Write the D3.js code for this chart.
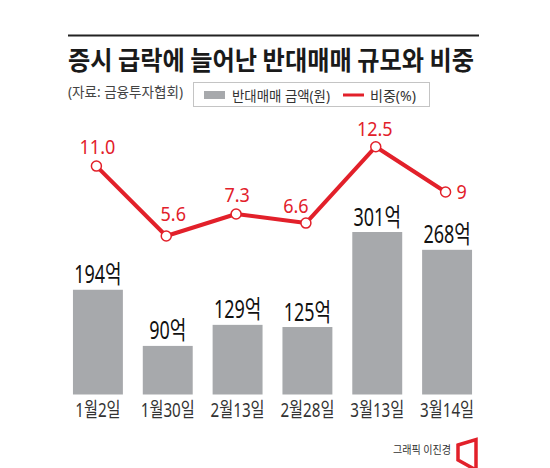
<!DOCTYPE html>
<html>
<head>
<meta charset="utf-8">
<script src="https://cdn.jsdelivr.net/npm/d3@7"></script>
<style>
  html, body { margin: 0; padding: 0; background: #fff; }
  svg text { font-family: "Noto Sans", "Noto Sans CJK KR", sans-serif; }
  svg text.kr { font-family: "Noto Sans CJK KR", "Noto Sans", sans-serif; }
</style>
</head>
<body>
<div id="chart"></div>
<script>
// ===== data =====
const dates   = ['1월2일', '1월30일', '2월13일', '2월28일', '3월13일', '3월14일'];
const amounts = [194, 90, 129, 125, 301, 268];          // 반대매매 금액 (억원)
const shares  = [11.0, 5.6, 7.3, 6.6, 12.5, 9];           // 비중 (%)
const shareLabels = ['11.0', '5.6', '7.3', '6.6', '12.5', '9'];

const RED  = '#e2202a';
const GRAY = '#a7a9ac';

const width = 550, height = 468;

const svg = d3.select('#chart')
  .append('svg')
  .attr('width', width)
  .attr('height', height);

// ---- Title block ----
svg.append('line')
  .attr('x1', 68).attr('x2', 479)
  .attr('y1', 35.5).attr('y2', 35.5)
  .attr('stroke', '#222').attr('stroke-width', 2);

svg.append('text')
  .attr('class', 'kr')
  .attr('x', 68).attr('y', 69.5)
  .attr('font-size', 26).attr('font-weight', 700)
  .attr('fill', '#1a1a1a')
  .attr('textLength', 406).attr('lengthAdjust', 'spacingAndGlyphs')
  .text('증시 급락에 늘어난 반대매매 규모와 비중');

svg.append('text')
  .attr('x', 68).attr('y', 96.5)
  .attr('font-size', 14).attr('fill', '#444')
  .attr('textLength', 115).attr('lengthAdjust', 'spacingAndGlyphs')
  .text('(자료: 금융투자협회)');

// ---- Legend ----
const legend = svg.append('g');
legend.append('rect')
  .attr('x', 193.5).attr('y', 82.5).attr('width', 236).attr('height', 24)
  .attr('fill', '#fff').attr('stroke', '#c4c4c4').attr('stroke-width', 1);
legend.append('rect')
  .attr('x', 204).attr('y', 91).attr('width', 21).attr('height', 8)
  .attr('fill', GRAY);
legend.append('text')
  .attr('x', 232).attr('y', 100.5)
  .attr('font-size', 14).attr('fill', '#333')
  .attr('textLength', 98).attr('lengthAdjust', 'spacingAndGlyphs')
  .text('반대매매 금액(원)');
legend.append('line')
  .attr('x1', 343).attr('x2', 364).attr('y1', 95).attr('y2', 95)
  .attr('stroke', RED).attr('stroke-width', 3);
legend.append('text')
  .attr('x', 370).attr('y', 100.5)
  .attr('font-size', 14).attr('fill', '#333')
  .attr('textLength', 46).attr('lengthAdjust', 'spacingAndGlyphs')
  .text('비중(%)');

// ---- Scales ----
const x = d3.scaleBand()
  .domain(dates)
  .range([63, 482])
  .paddingInner(0.285)
  .paddingOuter(0.1425);

const yBar = d3.scaleLinear()
  .domain([0, d3.max(amounts)])
  .range([394.5, 232]);

const yLine = d3.scaleLinear()
  .domain([0, d3.max(shares)])
  .range([308.5, 146.7]);

const cx = d => x(d) + x.bandwidth() / 2 - 1.5;

// ---- Bars ----
svg.selectAll('.bar')
  .data(amounts)
  .enter()
  .append('rect')
  .attr('class', 'bar')
  .attr('x', (d, i) => x(dates[i]))
  .attr('y', d => yBar(d))
  .attr('width', x.bandwidth())
  .attr('height', d => yBar(0) - yBar(d))
  .attr('fill', GRAY);

svg.selectAll('.bar-label')
  .data(amounts)
  .enter()
  .append('g')
  .attr('class', 'bar-label')
  .attr('transform', (d, i) => `translate(${x(dates[i]) + x.bandwidth() / 2},${yBar(d) - 6.5}) scale(0.72,1)`)
  .append('text')
  .attr('text-anchor', 'middle')
  .attr('font-size', 25)
  .attr('fill', '#111')
  .text(d => d + '억');

// ---- X axis ----
const xAxis = svg.append('g')
  .attr('transform', `translate(0,${yBar(0)})`)
  .call(d3.axisBottom(x).tickSize(0));
xAxis.select('.domain').remove();
xAxis.selectAll('text')
  .attr('y', 22.5).attr('dy', 0)
  .attr('font-size', 20)
  .attr('fill', '#333')
  .attr('font-family', '"Noto Sans", "Noto Sans CJK KR", sans-serif')
  .attr('transform', 'scale(0.76,1)');

// ---- Line ----
const line = d3.line()
  .x((d, i) => cx(dates[i]))
  .y(d => yLine(d));

svg.append('path')
  .datum(shares)
  .attr('d', line)
  .attr('fill', 'none')
  .attr('stroke', RED)
  .attr('stroke-width', 4)
  .attr('stroke-linejoin', 'round');

svg.selectAll('.dot')
  .data(shares)
  .enter()
  .append('circle')
  .attr('class', 'dot')
  .attr('cx', (d, i) => cx(dates[i]))
  .attr('cy', d => yLine(d))
  .attr('r', 5)
  .attr('fill', '#fff')
  .attr('stroke', RED)
  .attr('stroke-width', 1.5);

// label nudges (dx, dy from the point, anchor)
const nudge = [
  [1, -12, 'middle'],
  [7, -15, 'middle'],
  [1, -12, 'middle'],
  [-10, -10, 'middle'],
  [-1, -10.5, 'middle'],
  [11, 6.5, 'start']
];

svg.selectAll('.share-label')
  .data(shares)
  .enter()
  .append('g')
  .attr('class', 'share-label')
  .attr('transform', (d, i) => `translate(${cx(dates[i]) + nudge[i][0]},${yLine(d) + nudge[i][1]}) scale(0.9,1)`)
  .append('text')
  .attr('text-anchor', (d, i) => nudge[i][2])
  .attr('font-size', 20)
  .attr('fill', RED)
  .text((d, i) => shareLabels[i]);

// ---- Credit ----
svg.append('text')
  .attr('class', 'kr')
  .attr('x', 393).attr('y', 454)
  .attr('font-size', 11).attr('fill', '#333')
  .attr('textLength', 58).attr('lengthAdjust', 'spacingAndGlyphs')
  .text('그래픽 이진경');

svg.append('path')
  .attr('d', 'M458,445 L476,439.5 L476,470 L458,460 Z')
  .attr('fill', 'none')
  .attr('stroke', RED)
  .attr('stroke-width', 3.5)
  .attr('stroke-linejoin', 'miter');
</script>
</body>
</html>
